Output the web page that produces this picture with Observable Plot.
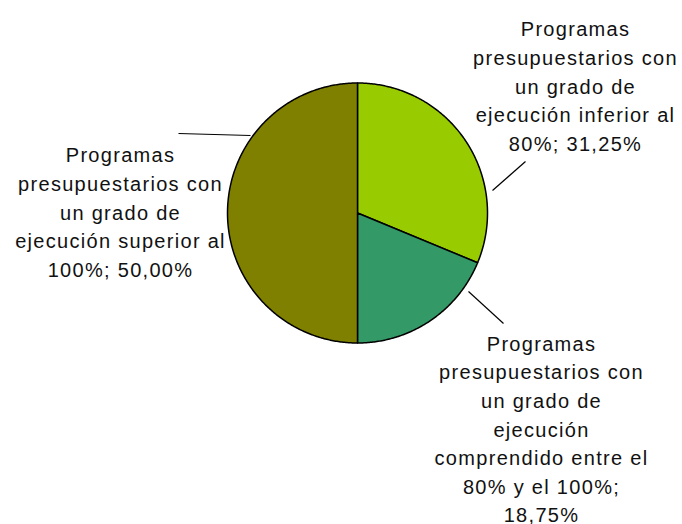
<!DOCTYPE html>
<html>
<head>
<meta charset="utf-8">
<script src="https://cdn.jsdelivr.net/npm/d3@7"></script>
<script src="https://cdn.jsdelivr.net/npm/@observablehq/plot@0.6"></script>
<style>
  html, body { margin: 0; padding: 0; background: #fff; }
  #chart { width: 682px; height: 524px; }
  #chart text { letter-spacing: 1.3px; }
</style>
</head>
<body>
<div id="chart"></div>
<script>
// ---- data ----
const categories = [
  "Programas\npresupuestarios con\nun grado de\nejecución inferior al\n80%; 31,25%",
  "Programas\npresupuestarios con\nun grado de\nejecución\ncomprendido entre el\n80% y el 100%;\n18,75%",
  "Programas\npresupuestarios con\nun grado de\nejecución superior al\n100%; 50,00%"
];
const values = [31.25, 18.75, 50.00];
const colors = ["#99CC00", "#339966", "#808000"];

// ---- layout ----
const W = 682, H = 524;
const cx = 357, cy = 212.5, R = 130;
const labelPos = [[575, 84], [541, 427], [120, 210]];
const leaders = [[[492, 190], [525, 161]], [[468, 291], [503, 323]], [[250, 135], [178, 133]]];

const pie = d3.pie().sort(null).value(d => d)(values);
const slices = pie.map((p, i) => {
  const pts = [{x: cx, y: cy}];
  const n = Math.max(2, Math.ceil((p.endAngle - p.startAngle) / 0.01));
  for (let k = 0; k <= n; k++) {
    const a = p.startAngle + (p.endAngle - p.startAngle) * k / n;
    pts.push({x: cx + R * Math.sin(a), y: cy - R * Math.cos(a)});
  }
  return pts;
});

const labels = categories.map((c, i) => ({text: c, x: labelPos[i][0], y: labelPos[i][1]}));
const links = leaders.map(l => ({x1: l[0][0], y1: l[0][1], x2: l[1][0], y2: l[1][1]}));

const chart = Plot.plot({
  width: W, height: H,
  margin: 0,
  x: {domain: [0, W], range: [0, W], axis: null},
  y: {domain: [0, H], range: [0, H], axis: null},
  style: {fontFamily: "'Liberation Sans', Arial, sans-serif", background: "#fff"},
  marks: [
    ...slices.map((s, i) => Plot.line(s, {x: "x", y: "y", curve: "linear-closed", fill: colors[i], stroke: "#000", strokeWidth: 1.5})),
    Plot.link(links, {x1: "x1", y1: "y1", x2: "x2", y2: "y2", stroke: "#000", strokeWidth: 1.2}),
    Plot.text(labels, {x: "x", y: "y", text: "text", fontSize: 20, lineHeight: 1.43, fill: "#111", textAnchor: "middle"})
  ]
});
document.getElementById("chart").appendChild(chart);
</script>
</body>
</html>
